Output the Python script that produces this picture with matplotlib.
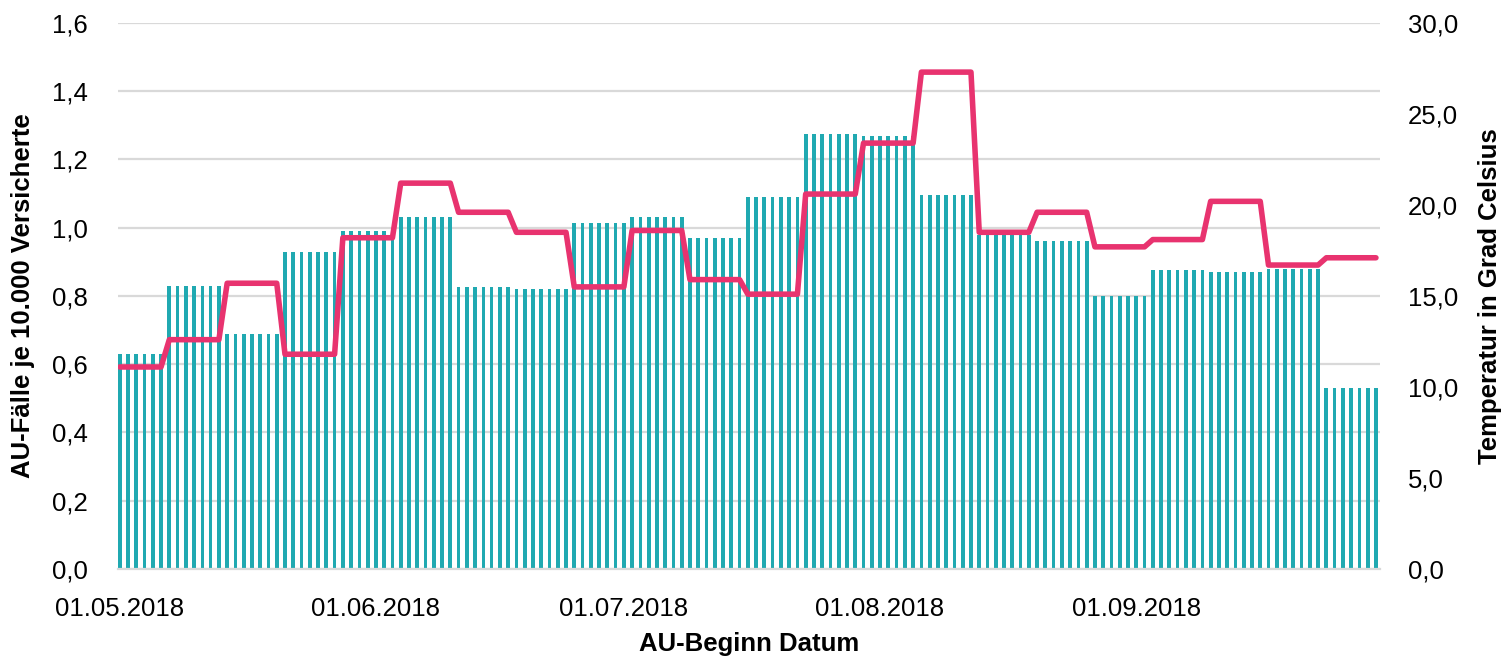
import matplotlib
matplotlib.use('agg')
import numpy as np
import pandas as pd
import matplotlib.pyplot as plt
from matplotlib import font_manager
from matplotlib.ticker import FuncFormatter

# Tage 01.05.2018 - 30.09.2018, Wochen beginnen montags
tage = pd.date_range('2018-05-01', '2018-09-30', freq='D')

# Wochenwerte: AU-Fälle je 10.000 Versicherte
au_woche = [0.63, 0.83, 0.69, 0.93, 0.99, 1.03, 0.825, 0.82, 1.015, 1.03, 0.97,
            1.09, 1.275, 1.27, 1.095, 0.98, 0.96, 0.80, 0.875, 0.87, 0.88, 0.53]
# Wochenmittel Temperatur in Grad Celsius
temp_woche = [11.1, 12.6, 15.7, 11.8, 18.2, 21.2, 19.6, 18.5, 15.5, 18.6, 15.9,
              15.1, 20.6, 23.4, 27.3, 18.5, 19.6, 17.7, 18.1, 20.2, 16.7, 17.1]

monats_ticks = ['01.05.2018', '01.06.2018', '01.07.2018', '01.08.2018', '01.09.2018']

x = np.arange(len(tage))
woche = (x + tage[0].dayofweek) // 7
au = np.array(au_woche)[woche]
temp = np.array(temp_woche)[woche]

# schmale Schrift, falls vorhanden
vorhanden = {f.name for f in font_manager.fontManager.ttflist}
if 'Liberation Sans Narrow' in vorhanden:
    plt.rcParams['font.family'] = ['Liberation Sans Narrow', 'DejaVu Sans']
    groesse, label_groesse = 21, 21
else:
    plt.rcParams['font.family'] = ['Liberation Sans', 'DejaVu Sans']
    groesse, label_groesse = 18.5, 18.5
plt.rcParams['font.size'] = groesse

fig = plt.figure(figsize=(15.04, 6.68), dpi=100)
ax = fig.add_axes([0.0785, 0.1482, 0.8391, 0.8174])
ax2 = ax.twinx()

ax.bar(x, au, width=0.45, color='#20A9B1', zorder=2)
ax2.plot(x, temp, color='#E8336F', lw=4, solid_capstyle='round',
         solid_joinstyle='round')

ax.set_xlim(-0.2, len(tage) - 0.5)
ax.set_ylim(0, 1.6)
ax.set_yticks(np.arange(0, 1.61, 0.2))
ax2.set_ylim(0, 30)
ax2.set_yticks(np.arange(0, 30.1, 5))

ax.yaxis.set_major_formatter(FuncFormatter(lambda v, p: f'{v:.1f}'.replace('.', ',')))
ax2.yaxis.set_major_formatter(FuncFormatter(lambda v, p: f'{v:.1f}'.replace('.', ',')))

pos = [list(tage.strftime('%d.%m.%Y')).index(t) for t in monats_ticks]
ax.set_xticks(pos)
ax.set_xticklabels(monats_ticks)

ax.grid(axis='y', color='#D9D9D9', lw=1.6, zorder=0)
ax.set_axisbelow(True)
for a in (ax, ax2):
    for s in a.spines.values():
        s.set_visible(False)
    a.tick_params(length=0)
ax.spines['bottom'].set_visible(True)
ax.spines['bottom'].set_color('#D9D9D9')
ax.spines['bottom'].set_linewidth(1.6)
ax.tick_params(axis='y', pad=22)
ax.tick_params(axis='x', pad=20)
ax2.tick_params(axis='y', pad=20)

ax.set_ylabel('AU-Fälle je 10.000 Versicherte', fontsize=label_groesse,
              fontweight='bold', labelpad=12)
ax2.set_ylabel('Temperatur in Grad Celsius', fontsize=label_groesse,
               fontweight='bold', labelpad=14)
ax.set_xlabel('AU-Beginn Datum', fontsize=label_groesse, fontweight='bold', labelpad=8)

fig.savefig('out.png', dpi=100)
